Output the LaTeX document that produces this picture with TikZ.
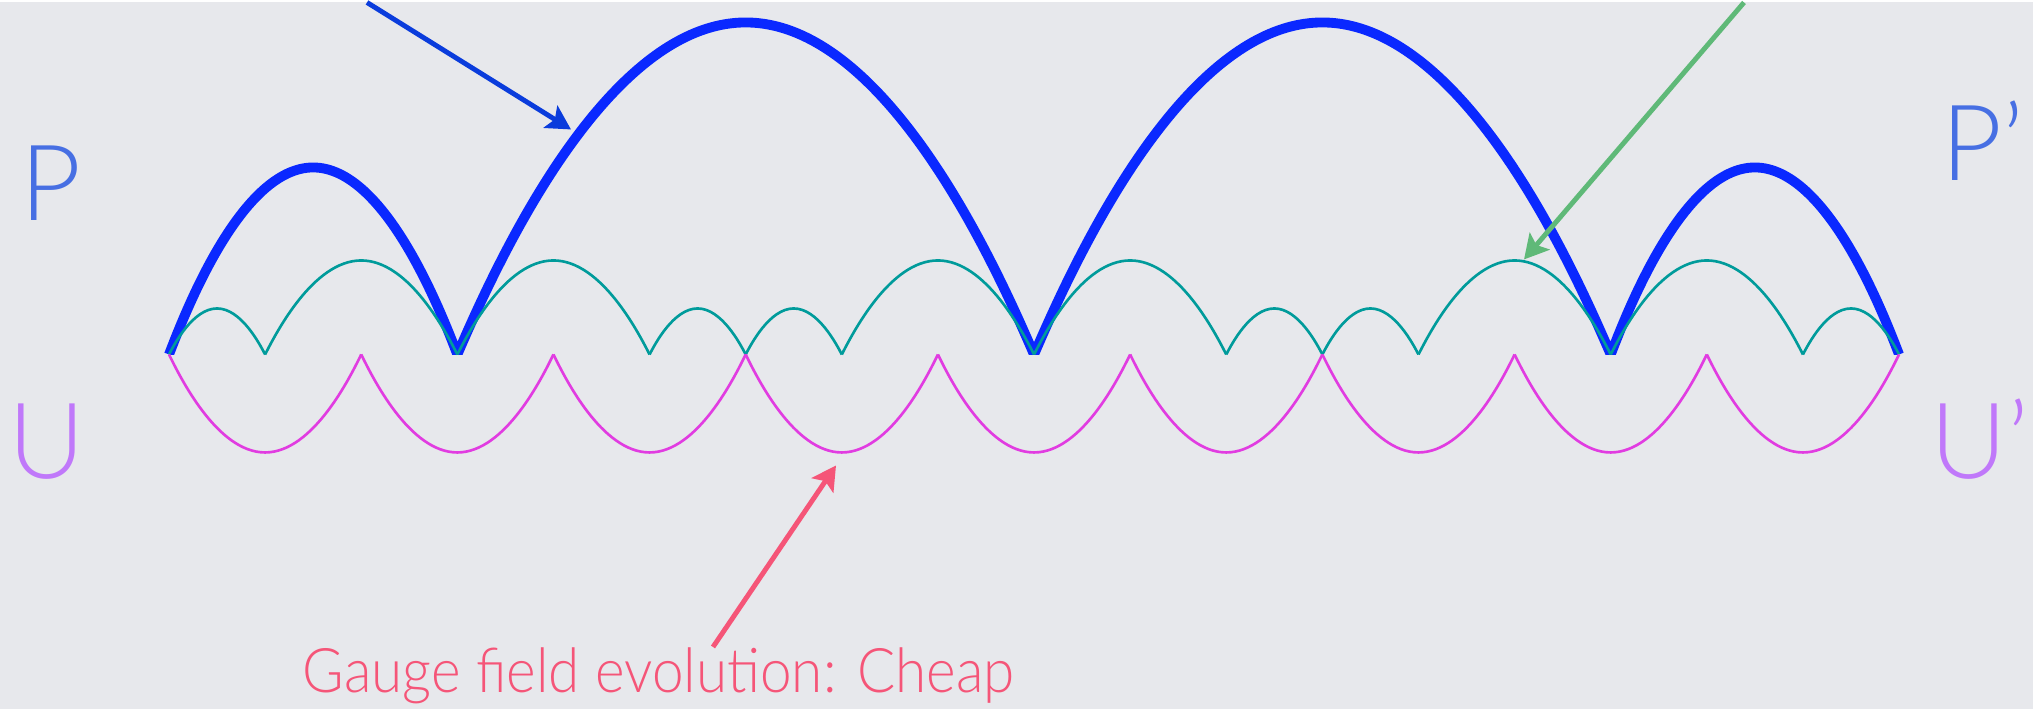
\documentclass[tikz,border=0pt]{standalone}
\usepackage{fontspec}
\setmainfont{Lato Light}
\usetikzlibrary{arrows.meta,calc}
\definecolor{slidebg}{HTML}{E7E8EC}
\definecolor{pcol}{HTML}{476FE3}
\definecolor{ucol}{HTML}{C078FA}
\definecolor{fermcol}{HTML}{0A28FF}
\definecolor{gaugecol}{HTML}{009B9B}
\definecolor{fieldcol}{HTML}{E13CE1}
\definecolor{fermarrow}{HTML}{0A3CDC}
\definecolor{gaugearrow}{HTML}{5FB978}
\definecolor{cheapcol}{HTML}{F55578}
\begin{document}
\begin{tikzpicture}[x=0.01cm,y=-0.01cm,line join=round]
	\tikzset{fermstep/.style={line width=2.8pt,color=fermcol,line join=miter},
		gaugestep/.style={line width=0.75pt,color=gaugecol},
		fieldstep/.style={line width=0.75pt,color=fieldcol},
		pointer/.style={line width=1.4pt,-{Stealth[length=0.24cm,width=0.26cm,inset=0.05cm]}},
		letter/.style={inner sep=0pt,anchor=base,font=\fontsize{30}{30}\selectfont}}
	\def\xo{169} \def\yb{352} \def\ux{144.17}
	\fill[slidebg] (0,0) rectangle (2033,707);
	% fermion force: two long and two short steps
	\begin{scope}
		\clip (0,0) rectangle (2033,\yb);
		\draw[fermstep] (\xo,\yb)
		\foreach \a/\b/\h in {0/2/187,2/6/332,6/10/332,10/12/187}{
			parabola bend ({\xo+(\a+\b)/2*\ux},{\yb-\h}) ({\xo+\b*\ux},\yb)};
	\end{scope}
	% gauge force
	\foreach \k in {0,4,8}
		\foreach \a/\b/\h in {0/0.66667/46,0.66667/2/94,2/3.33333/94,3.33333/4/46}
			\draw[gaugestep] ({\xo+(\k+\a)*\ux},\yb) parabola bend ({\xo+(\k+(\a+\b)/2)*\ux},{\yb-\h}) ({\xo+(\k+\b)*\ux},\yb);
	% gauge field
	\foreach \i in {0,...,8}
		\draw[fieldstep] ({\xo+\i*4/3*\ux},\yb) parabola bend ({\xo+(\i+0.5)*4/3*\ux},{\yb+98}) ({\xo+(\i+1)*4/3*\ux},\yb);
	% labels
	\node[letter,text=pcol] (pin) at (51,218) {P};
	\node[letter,text=pcol] (pout) at (1983,178) {P’};
	\node[letter,text=ucol] (uin) at (47,476) {U};
	\node[letter,text=ucol] (uout) at (1980,476) {U’};
	\node[inner sep=0pt,anchor=base west,text=cheapcol,font=\fontsize{17.5}{17.5}\selectfont,xscale=0.92] (cheap) at (302,690) {Gauge field evolution: Cheap};
	% arrows
	\coordinate (fermtail) at (367,0);
	\coordinate (fermtip) at (571,127);
	\coordinate (gaugetail) at (1744,0);
	\coordinate (gaugetip) at (1524,257);
	\coordinate (fieldtip) at (836,463);
	\draw[pointer,fermarrow] (fermtail) -- (fermtip);
	\draw[pointer,gaugearrow] (gaugetail) -- (gaugetip);
	\draw[pointer,cheapcol] ($(cheap.north west)+(411,0)$) -- (fieldtip);
\end{tikzpicture}
\end{document}
